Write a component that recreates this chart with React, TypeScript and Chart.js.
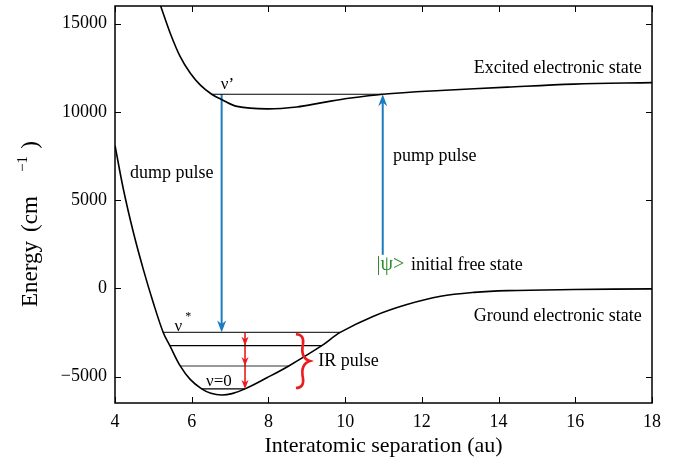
import React, { useEffect, useRef } from "react";
import { Chart, registerables } from "chart.js";

Chart.register(...registerables);

// ---- data ----
const excitedX = [5.1, 5.19, 5.44, 5.7, 5.96, 6.22, 6.52, 6.79, 7.18, 7.96, 8.74, 9.44, 10.09, 10.98, 12.49, 14.23, 15.96, 18];
const excitedE = [16560, 16000, 14460, 13130, 12200, 11530, 11000, 10690, 10310, 10170, 10280, 10540, 10770, 11000, 11210, 11400, 11570, 11660];

const groundX = [4.0, 4.22, 4.48, 4.74, 5.0, 5.26, 5.43, 5.7, 5.96, 6.26, 6.5, 6.78, 7.05, 7.39, 7.96, 8.53, 9.39, 9.87, 10.74, 11.61, 12.49, 13.36, 14.23, 15.96, 18];
const groundE = [8100, 5600, 3160, 1060, -830, -2520, -3250, -4400, -5160, -5700, -5950, -6050, -5970, -5700, -5070, -4400, -3250, -2500, -1580, -920, -450, -230, -130, -70, -30];

const levelE = [-2500, -3250, -4400, -5700];
const levelStart = [5.25, 5.43, 5.7, 6.26];
const levelEnd = [9.87, 9.39, 8.53, 7.39];

const vPrimeE = 11000;
const vPrimeStart = 6.52;
const vPrimeEnd = 10.98;

const dumpX = 6.78;
const pumpX = 10.98;
const pumpFromE = 1900;
const irX = 7.39;

const xTicks = [4, 6, 8, 10, 12, 14, 16, 18];
const yTicks = [-5000, 0, 5000, 10000, 15000];

const X_MIN = 4, X_MAX = 18, Y_MIN = -6500, Y_MAX = 16000;

const BLUE = "#1b7cc0";
const RED = "#ea1c1c";
const GREEN = "#2e8b2e";
const SERIF = "'Liberation Serif', 'DejaVu Serif', serif";

function pts(xs: number[], ys: number[]) {
  return xs.map((x, i) => ({ x, y: ys[i] }));
}

function arrowHead(ctx: CanvasRenderingContext2D, x: number, y: number, dir: number, hw: number, len: number, color: string) {
  ctx.save();
  ctx.fillStyle = color;
  ctx.beginPath();
  ctx.moveTo(x, y);
  ctx.lineTo(x - hw, y - dir * len);
  ctx.lineTo(x, y - dir * len * 0.7);
  ctx.lineTo(x + hw, y - dir * len);
  ctx.closePath();
  ctx.fill();
  ctx.restore();
}

const decorPlugin = {
  id: "decor",
  afterDatasetsDraw(chart: any) {
    const ctx: CanvasRenderingContext2D = chart.ctx;
    const xs = chart.scales.x;
    const ys = chart.scales.y;
    const X = (v: number) => xs.getPixelForValue(v);
    const Y = (v: number) => ys.getPixelForValue(v);
    arrowHead(ctx, X(dumpX), Y(levelE[0]), 1, 4.5, 12, BLUE);
    arrowHead(ctx, X(pumpX), Y(vPrimeE), -1, 4.5, 12, BLUE);
    for (let i = 1; i < levelE.length; i++) {
      arrowHead(ctx, X(irX), Y(levelE[i]), 1, 3.5, 9, RED);
    }
  },
  afterDraw(chart: any) {
    const ctx: CanvasRenderingContext2D = chart.ctx;
    const a = chart.chartArea;
    const xs = chart.scales.x;
    const ys = chart.scales.y;
    const X = (v: number) => xs.getPixelForValue(v);
    const Y = (v: number) => ys.getPixelForValue(v);
    ctx.save();
    ctx.strokeStyle = "#000";
    ctx.lineWidth = 1.5;
    ctx.strokeRect(a.left, a.top, a.right - a.left, a.bottom - a.top);
    ctx.lineWidth = 1;
    ctx.beginPath();
    const tl = 6;
    xTicks.forEach((t) => {
      const px = Math.round(X(t)) + 0.5;
      ctx.moveTo(px, a.bottom);
      ctx.lineTo(px, a.bottom - tl);
      ctx.moveTo(px, a.top);
      ctx.lineTo(px, a.top + tl);
    });
    yTicks.forEach((t) => {
      const py = Math.round(Y(t)) + 0.5;
      ctx.moveTo(a.left, py);
      ctx.lineTo(a.left + tl, py);
      ctx.moveTo(a.right, py);
      ctx.lineTo(a.right - tl, py);
    });
    ctx.stroke();

    ctx.fillStyle = "#000";
    ctx.textBaseline = "middle";
    const f = (s: number) => `${s}px ${SERIF}`;
    ctx.font = f(18);
    ctx.textAlign = "left";
    ctx.fillText("dump pulse", X(4.39), Y(6518));
    ctx.fillText("pump pulse", X(11.25), Y(7459));
    ctx.fillText("IR pulse", X(9.3), Y(-4160));
    ctx.textAlign = "right";
    ctx.fillText("Excited electronic state", X(17.73), Y(12470));
    ctx.fillText("Ground electronic state", X(17.73), Y(-1610));
    ctx.textAlign = "center";
    ctx.font = f(17);
    ctx.fillText("ν’", X(6.93), Y(11523));
    ctx.fillText("ν", X(5.65), Y(-2193));
    ctx.fillText("ν=0", X(6.71), Y(-5294));
    ctx.font = f(12);
    ctx.fillText("*", X(5.65) + 10, Y(-2193) - 10);

    ctx.textAlign = "left";
    ctx.font = f(20);
    ctx.fillStyle = GREEN;
    const psi = "|ψ>";
    const px0 = X(10.82);
    const py0 = Y(1320);
    ctx.fillText(psi, px0, py0);
    const pw = ctx.measureText(psi).width;
    ctx.fillStyle = "#000";
    ctx.font = f(18);
    ctx.fillText(" initial free state", px0 + pw + 2, py0);

    // red brace
    const bx = X(8.9);
    const bt = Y(-2600);
    const bb = Y(-5650);
    const bm = (bt + bb) / 2;
    const w = 7;
    ctx.strokeStyle = RED;
    ctx.lineWidth = 2.6;
    ctx.beginPath();
    ctx.moveTo(bx - w, bt);
    ctx.bezierCurveTo(bx - 1, bt, bx + 1, bt + 4, bx, bt + 10);
    ctx.bezierCurveTo(bx - 1, bm - 12, bx - 2, bm - 3, bx + w, bm);
    ctx.bezierCurveTo(bx - 2, bm + 3, bx - 1, bm + 12, bx, bb - 10);
    ctx.bezierCurveTo(bx + 1, bb - 4, bx - 1, bb, bx - w, bb);
    ctx.stroke();

    // axis titles
    ctx.fillStyle = "#000";
    ctx.font = f(22);
    ctx.textAlign = "center";
    ctx.textBaseline = "middle";
    ctx.fillText("Interatomic separation (au)", (a.left + a.right) / 2, 446);

    const vtext = (txt: string, size: number, yCenter: number, xBase: number) => {
      ctx.save();
      ctx.translate(xBase, yCenter);
      ctx.rotate(-Math.PI / 2);
      ctx.font = f(size);
      ctx.textAlign = "center";
      ctx.textBaseline = "alphabetic";
      ctx.fillText(txt, 0, 0);
      ctx.restore();
    };
    vtext("Energy", 23, 274, 37);
    vtext("(cm", 23, 214, 37);
    vtext("−1", 15, 164, 27);
    vtext(")", 23, 145, 37);

    ctx.restore();
  },
};

export default function App() {
  const ref = useRef<HTMLCanvasElement | null>(null);
  useEffect(() => {
    document.body.style.margin = "0";
    if (!ref.current) return;
    const line = (data: any[], color: string, width: number, extra: any = {}) => ({
      data,
      borderColor: color,
      borderWidth: width,
      pointRadius: 0,
      showLine: true,
      fill: false,
      ...extra,
    });
    const datasets: any[] = [
      line(pts(excitedX, excitedE), "#000", 1.6, { tension: 0.35 }),
      line(pts(groundX, groundE), "#000", 1.6, { tension: 0.35 }),
      line([{ x: vPrimeStart, y: vPrimeE }, { x: vPrimeEnd, y: vPrimeE }], "#000", 1.1),
    ];
    levelE.forEach((e, i) => {
      datasets.push(line([{ x: levelStart[i], y: e }, { x: levelEnd[i], y: e }], i % 2 === 0 ? "#333" : "#000", 1.1));
    });
    datasets.push(line([{ x: dumpX, y: vPrimeE }, { x: dumpX, y: levelE[0] + 300 }], BLUE, 2));
    datasets.push(line([{ x: pumpX, y: pumpFromE }, { x: pumpX, y: vPrimeE - 300 }], BLUE, 2));
    datasets.push(line([{ x: irX, y: levelE[0] }, { x: irX, y: levelE[3] + 200 }], RED, 1.6));

    const tickFont = { family: SERIF, size: 18 };
    const chart = new Chart(ref.current, {
      type: "scatter",
      data: { datasets },
      plugins: [decorPlugin],
      options: {
        animation: false,
        responsive: true,
        maintainAspectRatio: false,
        events: [],
        layout: { padding: { top: 6, right: 29, left: 0, bottom: 0 } },
        plugins: { legend: { display: false }, tooltip: { enabled: false } },
        scales: {
          x: {
            type: "linear",
            min: X_MIN,
            max: X_MAX,
            grid: { display: false, drawTicks: false },
            border: { display: false },
            afterBuildTicks: (s: any) => { s.ticks = xTicks.map((v) => ({ value: v })); },
            afterFit: (s: any) => { s.height = 58; s.paddingLeft = 0; s.paddingRight = 0; },
            ticks: { color: "#000", font: tickFont, padding: 8, maxRotation: 0, autoSkip: false },
          },
          y: {
            type: "linear",
            min: Y_MIN,
            max: Y_MAX,
            grid: { display: false, drawTicks: false },
            border: { display: false },
            afterBuildTicks: (s: any) => { s.ticks = yTicks.map((v) => ({ value: v })); },
            afterFit: (s: any) => { s.width = 115; s.paddingTop = 0; s.paddingBottom = 0; },
            ticks: {
              color: "#000",
              font: tickFont,
              padding: 8,
              autoSkip: false,
              callback: (v: any) => (Number(v) < 0 ? "−" + Math.abs(Number(v)) : String(v)),
            },
          },
        },
      } as any,
    });
    return () => chart.destroy();
  }, []);
  return (
    <div style={{ width: 681, height: 461, position: "relative", background: "#fff" }}>
      <canvas ref={ref} />
    </div>
  );
}
